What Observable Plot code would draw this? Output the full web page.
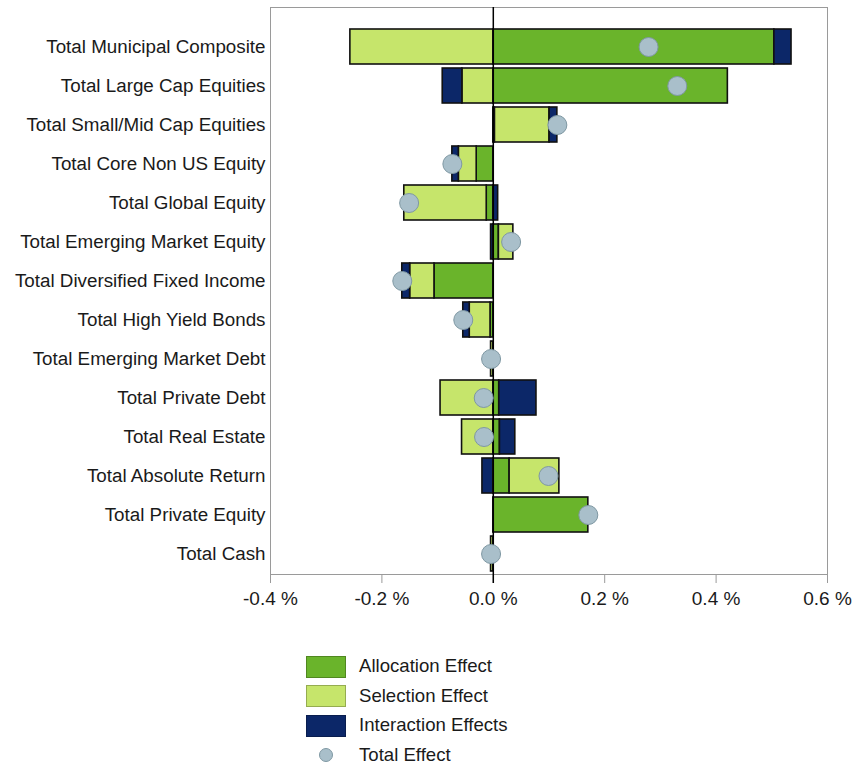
<!DOCTYPE html>
<html>
<head>
<meta charset="utf-8">
<script src="https://cdn.jsdelivr.net/npm/d3@7"></script>
<script src="https://cdn.jsdelivr.net/npm/@observablehq/plot@0.6"></script>
<style>
  html, body { margin: 0; padding: 0; background: #fff; }
  body { width: 854px; font-family: "Liberation Sans", Arial, sans-serif; color: #1a1a1a; }
  #legend { margin-top: 12px; margin-left: 306px; }
  .row { display: flex; align-items: center; height: 29.5px; font-size: 18.6px; line-height: 1; }
  .sw { width: 40px; height: 22px; box-sizing: border-box; margin-right: 13px; display: flex; align-items: center; justify-content: center; }
  .dot { width: 14px; height: 14px; border-radius: 50%; box-sizing: border-box; }
</style>
</head>
<body>
<div id="chart"></div>
<div id="legend"></div>
<script>
const categories = [
  "Total Municipal Composite",
  "Total Large Cap Equities",
  "Total Small/Mid Cap Equities",
  "Total Core Non US Equity",
  "Total Global Equity",
  "Total Emerging Market Equity",
  "Total Diversified Fixed Income",
  "Total High Yield Bonds",
  "Total Emerging Market Debt",
  "Total Private Debt",
  "Total Real Estate",
  "Total Absolute Return",
  "Total Private Equity",
  "Total Cash"
];
const allocation  = [0.5046, 0.4211, 0.003, -0.0298, -0.0118, 0.010, -0.1056, -0.005, 0.000, 0.0107, 0.0119, 0.0293, 0.1706, 0.000];
const selection   = [-0.2566, -0.0555, 0.098, -0.0321, -0.148, 0.026, -0.0437, -0.0373, -0.004, -0.0947, -0.0561, 0.0893, 0.000, -0.004];
const interaction = [0.0308, -0.0353, 0.014, -0.0116, 0.0087, -0.004, -0.0141, -0.0116, 0.000, 0.0668, 0.0276, -0.0195, 0.000, 0.000];
const seriesNames = ["Allocation Effect", "Selection Effect", "Interaction Effects"];
const totalName = "Total Effect";
const xTicks = [-0.4, -0.2, 0, 0.2, 0.4, 0.6];
const colors = ["#6ab42b", "#c6e56b", "#0c2768"];
const dotFill = "#a9bfca", dotStroke = "#7f98a3";

const series = [allocation, selection, interaction];
const rows = [];
categories.forEach((c, i) => {
  series.forEach((s, k) => rows.push({category: c, type: seriesNames[k], value: s[i]}));
});
const totals = categories.map((c, i) => ({category: c, total: allocation[i] + selection[i] + interaction[i]}));

const chart = Plot.plot({
  width: 854,
  height: 640,
  marginLeft: 270,
  marginRight: 27,
  marginTop: 7,
  marginBottom: 66,
  style: {fontFamily: "Liberation Sans, Arial, sans-serif", color: "#1a1a1a", background: "#fff"},
  x: {domain: [-0.4, 0.6]},
  y: {domain: categories, paddingInner: 0.1, paddingOuter: 0.05, insetTop: 19.5},
  color: {domain: seriesNames, range: colors},
  marks: [
    Plot.frame({stroke: "#9a9a9a"}),
    Plot.axisX({ticks: xTicks, tickFormat: d => d.toFixed(1) + " %", tickSize: 9, tickPadding: 8, stroke: "#9a9a9a", fontSize: 19, label: null}),
    Plot.axisY({tickSize: 0, tickPadding: 5, fontSize: 18.8, label: null}),
    Plot.barX(rows, Plot.stackX({x: "value", y: "category", fill: "type", stroke: "#111", strokeWidth: 1.6})),
    Plot.ruleX([0], {stroke: "#000", strokeWidth: 1.5, insetBottom: -9}),
    Plot.dot(totals, {x: "total", y: "category", r: 9.5, fill: dotFill, stroke: dotStroke, strokeWidth: 1})
  ]
});
document.getElementById("chart").appendChild(chart);

const legend = document.getElementById("legend");
seriesNames.forEach((n, k) => {
  const r = document.createElement("div");
  r.className = "row";
  const sw = document.createElement("div");
  sw.className = "sw";
  sw.style.background = colors[k];
  sw.style.border = "1px solid " + d3.color(colors[k]).darker(0.8);
  r.appendChild(sw);
  r.appendChild(document.createTextNode(n));
  legend.appendChild(r);
});
{
  const r = document.createElement("div");
  r.className = "row";
  const sw = document.createElement("div");
  sw.className = "sw";
  const d = document.createElement("div");
  d.className = "dot";
  d.style.background = dotFill;
  d.style.border = "1px solid " + dotStroke;
  sw.appendChild(d);
  r.appendChild(sw);
  r.appendChild(document.createTextNode(totalName));
  legend.appendChild(r);
}
</script>
</body>
</html>
